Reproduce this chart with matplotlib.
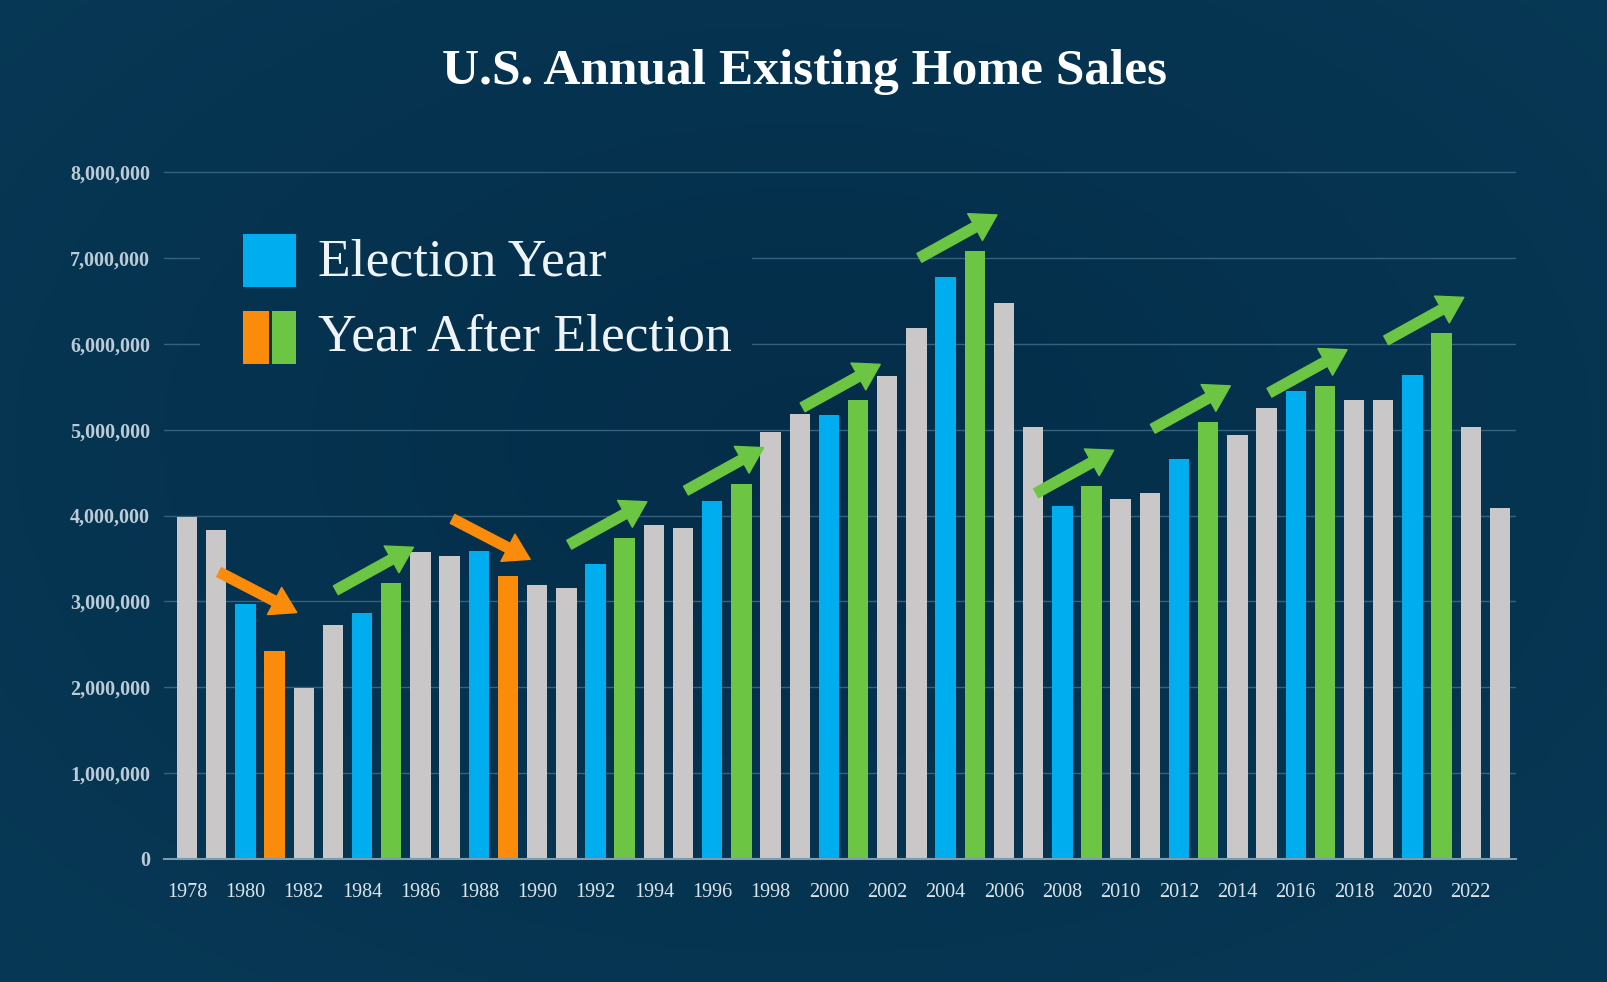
import numpy as np
import matplotlib
matplotlib.use("Agg")
import matplotlib.pyplot as plt
from matplotlib.patches import Rectangle

# ---------------- data ----------------
years = list(range(1978, 2024))
sales = [3.98e6, 3.83e6, 2.97e6, 2.42e6, 1.99e6, 2.72e6, 2.87e6, 3.21e6, 3.57e6, 3.53e6,
         3.59e6, 3.29e6, 3.19e6, 3.15e6, 3.43e6, 3.74e6, 3.89e6, 3.85e6, 4.17e6, 4.37e6,
         4.97e6, 5.18e6, 5.17e6, 5.34e6, 5.63e6, 6.18e6, 6.78e6, 7.08e6, 6.48e6, 5.03e6,
         4.11e6, 4.34e6, 4.19e6, 4.26e6, 4.66e6, 5.09e6, 4.94e6, 5.25e6, 5.45e6, 5.51e6,
         5.34e6, 5.34e6, 5.64e6, 6.12e6, 5.03e6, 4.09e6]
election_years = list(range(1980, 2024, 4))
decline_after_years = [1981, 1989]
yticks = [0, 1e6, 2e6, 3e6, 4e6, 5e6, 6e6, 7e6, 8e6]
ytick_labels = ["0", "1,000,000", "2,000,000", "3,000,000", "4,000,000",
                "5,000,000", "6,000,000", "7,000,000", "8,000,000"]
xtick_years = list(range(1978, 2023, 2))
title = "U.S. Annual Existing Home Sales"
legend_labels = ["Election Year", "Year After Election"]

# ---------------- style ----------------
GRAY = "#c9c7c7"
BLUE = "#00adee"
GREEN = "#6cc644"
ORANGE = "#fb8c0b"
BG = "#053550"
SERIF = ["Liberation Serif", "DejaVu Serif"]

W, H = 1608, 982
fig = plt.figure(figsize=(W / 100, H / 100), dpi=100, facecolor=BG)

# background gradient
yy, xx = np.mgrid[0:1:200j, 0:1:320j]
r = np.sqrt(((xx - 0.5) / 0.8) ** 2 + ((yy - 0.55) / 0.85) ** 2)
c_in = np.array([0x04, 0x2d, 0x49]) / 255
c_out = np.array([0x07, 0x3a, 0x57]) / 255
t = np.clip(r, 0, 1)[..., None]
img = c_in * (1 - t) + c_out * t

bgax = fig.add_axes([0, 0, 1, 1], zorder=-10)
bgax.imshow(img, aspect="auto", extent=[0, 1, 0, 1], origin="lower")
bgax.set_xlim(0, 1)
bgax.set_ylim(0, 1)
bgax.set_axis_off()

ymax = 8.1e6
left, right = 164 / W, 1516 / W
bottom = (H - 859) / H
height = (859 - 172) / H * ymax / 8e6
ax = fig.add_axes([left, bottom, right - left, height])
ax.set_facecolor("none")

colors = []
for y in years:
    if y in election_years:
        colors.append(BLUE)
    elif y in decline_after_years:
        colors.append(ORANGE)
    elif (y - 1) in election_years:
        colors.append(GREEN)
    else:
        colors.append(GRAY)

ax.bar(years, sales, width=0.70, color=colors, zorder=3)

ax.set_xlim(1977.21, 2023.55)
ax.set_ylim(0, ymax)
ax.set_yticks(yticks)
ax.set_yticklabels(ytick_labels, fontsize=14.5, family=SERIF, color="#bccbd6",
                   fontweight="semibold")
ax.set_xticks(xtick_years)
ax.set_xticklabels([str(y) for y in xtick_years], fontsize=14.5, family=SERIF,
                   color="#dbe4ea")
ax.tick_params(axis="y", length=0, pad=10)
ax.tick_params(axis="x", length=0, pad=17)
for s in ["top", "right", "left"]:
    ax.spines[s].set_visible(False)
ax.spines["bottom"].set_color("#7d9cb0")
ax.spines["bottom"].set_linewidth(1.5)
ax.spines["bottom"].set_zorder(4)
ax.grid(axis="y", color="#3f6f8c", linewidth=1.0, alpha=0.8, zorder=0)
ax.set_axisbelow(True)

# arrows
val = dict(zip(years, sales))
for e in election_years:
    a = e + 1
    if a not in val:
        continue
    if a in decline_after_years:
        col = ORANGE
        head = val[e] - 0.10e6
        tail = head + 0.47e6
    else:
        col = GREEN
        head = val[a] + 0.42e6
        tail = head - 0.50e6
    ax.annotate("", xy=(e + 1.76, head), xytext=(e - 0.9, tail),
                arrowprops=dict(arrowstyle="simple,head_length=0.9,head_width=1.1,tail_width=0.36",
                                color=col, mutation_scale=20, shrinkA=0, shrinkB=0),
                zorder=5)

# title
fig.text(805 / W, 1 - 72 / H, title, ha="center", va="center", fontsize=37,
         fontweight="bold", family=SERIF, color="white")

# legend: a patch of the same background gradient hides the grid lines behind it
lx0, lx1 = 200 / W, 752 / W
ly0, ly1 = 1 - 385 / H, 1 - 210 / H
legax = fig.add_axes([lx0, ly0, lx1 - lx0, ly1 - ly0], zorder=5)
legax.imshow(img, aspect="auto", extent=[0, 1, 0, 1], origin="lower")
legax.set_xlim(lx0, lx1)
legax.set_ylim(ly0, ly1)
legax.set_axis_off()

fig.patches.append(Rectangle((243 / W, 1 - 287 / H), 53 / W, 53 / H,
                             transform=fig.transFigure, facecolor=BLUE, zorder=6))
fig.patches.append(Rectangle((243 / W, 1 - 364 / H), 26 / W, 53 / H,
                             transform=fig.transFigure, facecolor=ORANGE, zorder=6))
fig.patches.append(Rectangle((272 / W, 1 - 364 / H), 24 / W, 53 / H,
                             transform=fig.transFigure, facecolor=GREEN, zorder=6))
legax.text(318 / W, 1 - 262 / H, legend_labels[0], ha="left", va="center",
           fontsize=38.5, family=SERIF, color="#eef3f6", zorder=7,
           transform=fig.transFigure)
legax.text(318 / W, 1 - 337 / H, legend_labels[1], ha="left", va="center",
           fontsize=38.5, family=SERIF, color="#eef3f6", zorder=7,
           transform=fig.transFigure, clip_on=False)

fig.savefig("out.png", dpi=100, facecolor=BG)
